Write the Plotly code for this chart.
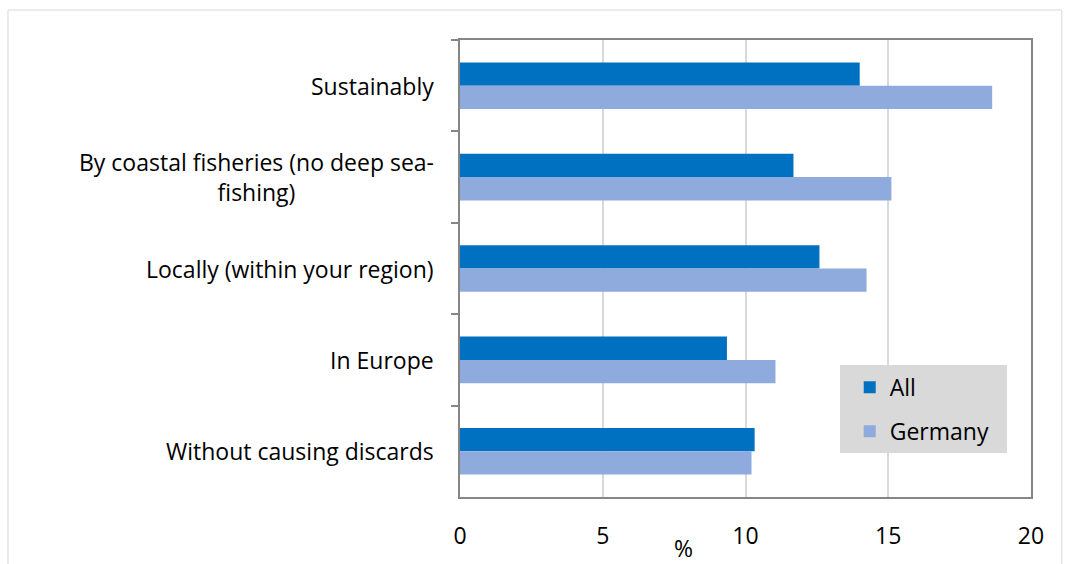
import plotly.graph_objects as go

categories = [
    "Sustainably",
    "By coastal fisheries (no deep sea-<br>fishing)",
    "Locally (within your region)",
    "In Europe",
    "Without causing discards",
]
all_values = [14.0, 11.68, 12.59, 9.35, 10.32]
germany_values = [18.64, 15.11, 14.24, 11.05, 10.21]
x_ticks = [0, 5, 10, 15, 20]

FONT = "Open Sans"
FSIZE = 23
AXIS_GRAY = "#868686"

fig = go.Figure()
fig.add_trace(go.Bar(
    y=categories, x=all_values, orientation="h", name="All",
    marker=dict(color="#0070c0", line=dict(width=0)),
    legendgroup="a",
))
fig.add_trace(go.Bar(
    y=categories, x=germany_values, orientation="h", name="Germany",
    marker=dict(color="#8faadc", line=dict(width=0)),
    legendgroup="b",
))

# category labels, right-aligned against the axis, lines centred
for cat in categories:
    fig.add_annotation(
        x=0, xref="paper", xanchor="right", xshift=-24,
        y=cat, yref="y", yanchor="middle",
        text=cat, showarrow=False, align="center",
        font=dict(family=FONT, size=FSIZE, color="#000000"),
    )

# outer chart frame
fig.add_shape(type="rect", xref="paper", yref="paper",
              x0=-0.7916, x1=1.054, y0=-0.2, y1=1.0656,
              line=dict(color="#d9d9d9", width=1), fillcolor="rgba(0,0,0,0)",
              layer="below")
# legend panel
fig.add_shape(type="rect", xref="paper", yref="paper",
              x0=0.6655, x1=0.958, y0=0.0963, y1=0.289,
              line=dict(width=0), fillcolor="#d9d9d9", layer="above")

fig.add_annotation(
    x=(683 - 460) / 571, xref="paper", y=-0.112, yref="paper",
    yanchor="middle", xanchor="center",
    text="%", showarrow=False,
    font=dict(family=FONT, size=FSIZE, color="#000000"),
)

fig.update_layout(
    width=1065, height=564,
    margin=dict(l=460, r=34, t=40, b=67),
    paper_bgcolor="white", plot_bgcolor="white",
    barmode="group", bargap=0.49, bargroupgap=0,
    font=dict(family=FONT, size=FSIZE, color="#000000"),
    showlegend=True,
    legend=dict(
        x=0.6825, y=0.287, xanchor="left", yanchor="top",
        bgcolor="rgba(0,0,0,0)", borderwidth=0,
        font=dict(family=FONT, size=FSIZE, color="#000000"),
        tracegroupgap=11, itemsizing="constant",
    ),
    xaxis=dict(
        range=[0, 20], tickvals=x_ticks, ticktext=[str(v) for v in x_ticks],
        showgrid=True, gridcolor="#d9d9d9", gridwidth=2,
        showline=True, linecolor=AXIS_GRAY, linewidth=2, mirror=True,
        ticks="", zeroline=False, ticklabelstandoff=17,
        tickfont=dict(family=FONT, size=FSIZE, color="#000000"),
    ),
    yaxis=dict(
        categoryorder="array", categoryarray=categories,
        autorange="reversed",
        showticklabels=False,
        ticks="outside", tickson="boundaries", ticklen=7,
        tickcolor=AXIS_GRAY, tickwidth=2,
        showline=True, linecolor=AXIS_GRAY, linewidth=2, mirror=True,
        showgrid=False, zeroline=False,
    ),
)

fig.write_html("out.html")
